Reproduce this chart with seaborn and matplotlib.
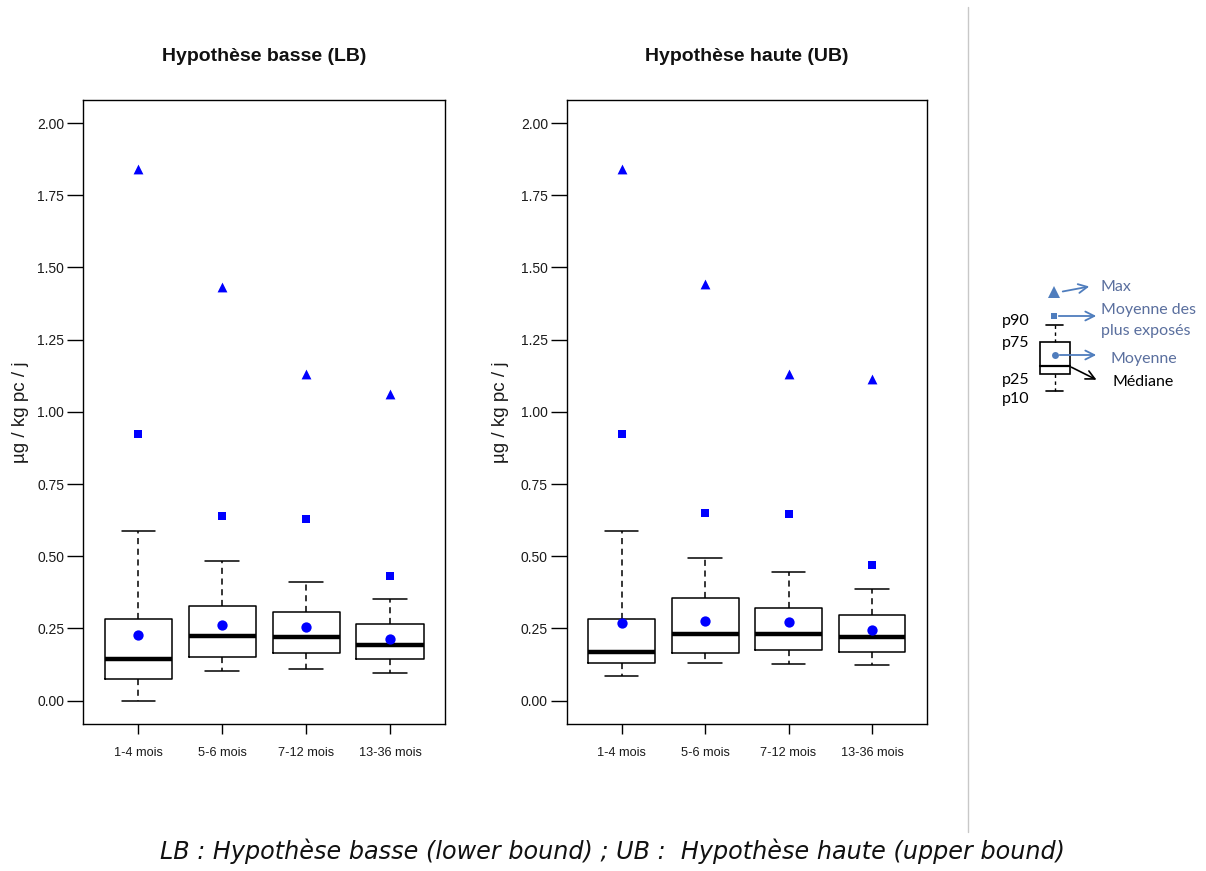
import matplotlib
matplotlib.use("Agg")
import matplotlib.pyplot as plt
import numpy as np
import pandas as pd
import seaborn as sns

# tranches d'age
ages = ["1-4 mois", "5-6 mois", "7-12 mois", "13-36 mois"]

# Hypothèse basse (LB)
lb_p10 = [0.000, 0.104, 0.108, 0.096]
lb_p25 = [0.074, 0.152, 0.165, 0.143]
lb_med = [0.143, 0.223, 0.220, 0.192]
lb_p75 = [0.284, 0.326, 0.307, 0.265]
lb_p90 = [0.588, 0.484, 0.411, 0.353]
lb_mean = [0.227, 0.261, 0.254, 0.212]
lb_top = [0.922, 0.638, 0.630, 0.432]
lb_max = [1.842, 1.432, 1.132, 1.063]

# Hypothèse haute (UB)
ub_p10 = [0.086, 0.130, 0.127, 0.123]
ub_p25 = [0.130, 0.165, 0.174, 0.169]
ub_med = [0.169, 0.231, 0.231, 0.220]
ub_p75 = [0.284, 0.357, 0.322, 0.296]
ub_p90 = [0.588, 0.495, 0.446, 0.385]
ub_mean = [0.268, 0.277, 0.273, 0.243]
ub_top = [0.925, 0.649, 0.647, 0.469]
ub_max = [1.842, 1.444, 1.132, 1.113]

y_ticks = [0.0, 0.25, 0.5, 0.75, 1.0, 1.25, 1.5, 1.75, 2.0]

sns.set_theme(style="white")
plt.rcParams["font.family"] = ["Liberation Sans", "DejaVu Sans"]

W, H = 1206, 871
fig = plt.figure(figsize=(W / 100, H / 100), dpi=100)


def panel(rect, title, p10, p25, med, p75, p90, mean, top, mx, ylab_x):
    ax = fig.add_axes(rect)
    stats = []
    for i in range(len(ages)):
        stats.append(dict(whislo=p10[i], q1=p25[i], med=med[i], q3=p75[i],
                          whishi=p90[i], fliers=[], label=ages[i]))
    ax.bxp(stats, positions=range(len(ages)), widths=0.8, showfliers=False,
           boxprops=dict(color="black", linewidth=1.1),
           medianprops=dict(color="black", linewidth=3.2, solid_capstyle="butt"),
           whiskerprops=dict(color="black", linewidth=1.1, linestyle=(0, (4, 3))),
           capprops=dict(color="black", linewidth=1.1))
    pts = pd.DataFrame({"age": ages, "mean": mean, "top": top, "max": mx})
    sns.scatterplot(data=pts, x="age", y="max", marker="^", s=50, color="blue",
                    linewidth=0, ax=ax, zorder=4)
    sns.scatterplot(data=pts, x="age", y="top", marker="s", s=34, color="blue",
                    linewidth=0, ax=ax, zorder=4)
    sns.scatterplot(data=pts, x="age", y="mean", marker="o", s=55, color="blue",
                    linewidth=0, ax=ax, zorder=4)
    ax.set_xlim(-0.66, 3.66)
    ax.set_ylim(-0.08, 2.08)
    ax.set_xticks(range(len(ages)))
    ax.set_xticklabels(ages, fontsize=9.2)
    ax.set_yticks(y_ticks)
    ax.set_yticklabels([f"{v:.2f}" for v in y_ticks], fontsize=10)
    ax.tick_params(axis="y", direction="out", length=11.5, width=1, pad=2,
                   color="black", labelcolor="#1a1a1a", left=True)
    ax.tick_params(axis="x", direction="out", length=7, width=1, pad=10,
                   color="black", labelcolor="#1a1a1a", bottom=True)
    for s in ax.spines.values():
        s.set_visible(True)
        s.set_color("black")
        s.set_linewidth(1.0)
    ax.set_xlabel("")
    ax.set_ylabel("µg / kg pc / j", fontsize=13.5, color="#1a1a1a", labelpad=0)
    ax.yaxis.set_label_coords(ylab_x, 0.5)
    ax.text(0.5, 1.069, title, transform=ax.transAxes, ha="center", va="center",
            fontsize=14, fontweight="bold", color="#111111")
    ax.grid(False)
    return ax


ax1 = panel([83 / W, 1 - 723.7 / H, 362.4 / W, 623.7 / H], "Hypothèse basse (LB)",
            lb_p10, lb_p25, lb_med, lb_p75, lb_p90, lb_mean, lb_top, lb_max, -0.15)
ax2 = panel([566.7 / W, 1 - 723.7 / H, 360.3 / W, 623.7 / H], "Hypothèse haute (UB)",
            ub_p10, ub_p25, ub_med, ub_p75, ub_p90, ub_mean, ub_top, ub_max, -0.16)

# trait de séparation
fig.add_artist(plt.Line2D([968 / W, 968 / W], [1 - 7 / H, 1 - 832 / H],
                          color="#c8c8c8", linewidth=1))

# légende schématique (coordonnées en pixels)
lg = fig.add_axes([985 / W, 1 - 410 / H, 221 / W, 150 / H])
lg.set_xlim(985, 1206)
lg.set_ylim(410, 260)
lg.axis("off")
blue_txt = "#5a6f9e"
blue_mk = "#4f7dbd"
lf = dict(family=["Lato", "DejaVu Sans"], fontsize=11.5)
lg.plot([1054], [292], marker="^", ms=9, color=blue_mk, mew=0)
lg.plot([1054], [316], marker="s", ms=4.5, color=blue_mk, mew=0)
lg.plot([1055], [355], marker="o", ms=5, color=blue_mk, mew=0)
arrow = dict(arrowstyle="->", color=blue_mk, lw=1.3, mutation_scale=16)
lg.annotate("", xy=(1092, 286), xytext=(1060, 292), arrowprops=arrow)
lg.annotate("", xy=(1099, 316), xytext=(1056, 316), arrowprops=arrow)
lg.annotate("", xy=(1099, 355), xytext=(1057, 355), arrowprops=arrow)
lg.annotate("", xy=(1099, 381), xytext=(1069, 366),
            arrowprops=dict(arrowstyle="->", color="black", lw=1.2, mutation_scale=16))
# mini boîte
lg.plot([1046, 1063], [325, 325], color="black", lw=1.2)
lg.plot([1054.5, 1054.5], [325, 342], color="black", lw=1, ls=(0, (2.5, 2.5)))
lg.add_patch(plt.Rectangle((1040, 342), 30, 32, fill=False, ec="black", lw=1.2))
lg.plot([1040, 1070], [366, 366], color="black", lw=1.6)
lg.plot([1054.5, 1054.5], [374, 391], color="black", lw=1, ls=(0, (2.5, 2.5)))
lg.plot([1046, 1063], [391, 391], color="black", lw=1.2)
lg.text(1101, 287, "Max", color=blue_txt, va="center", **lf)
lg.text(1101, 310, "Moyenne des", color=blue_txt, va="center", **lf)
lg.text(1101, 331, "plus exposés", color=blue_txt, va="center", **lf)
lg.text(1111, 359, "Moyenne", color=blue_txt, va="center", **lf)
lg.text(1112, 382, "Médiane", color="black", va="center", **lf)
for lab, yy in [("p90", 321), ("p75", 343), ("p25", 380), ("p10", 399)]:
    lg.text(1002, yy, lab, color="black", va="center", **lf)

fig.text(613 / W, 1 - 851 / H,
         "LB : Hypothèse basse (lower bound) ; UB :  Hypothèse haute (upper bound)",
         ha="center", va="center", fontsize=17.2, style="italic",
         family="DejaVu Sans", color="#111111")

fig.savefig("out.png", dpi=100)
